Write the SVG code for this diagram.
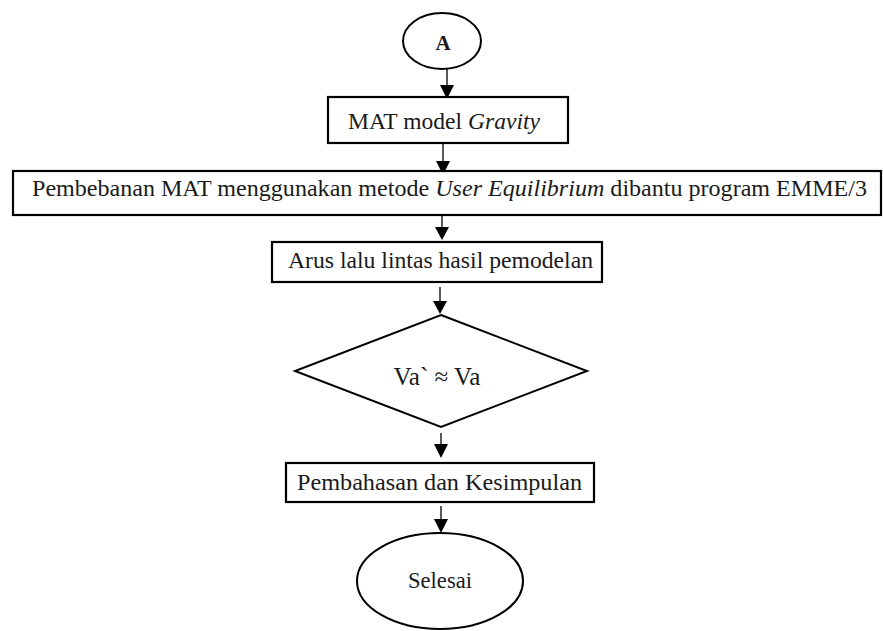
<svg xmlns="http://www.w3.org/2000/svg" width="883" height="631" viewBox="0 0 883 631">
<defs>
<style>
.box{fill:#fff;stroke:#000;stroke-width:2.2}
.shape{fill:#fff;stroke:#000;stroke-width:2}
.t{font-family:"Liberation Serif","Times New Roman",serif;font-size:24px;fill:#1a1a1a}
.ta{font-family:"Liberation Serif","Times New Roman",serif;font-size:21px;font-weight:bold;fill:#1a1a1a}
.tv{font-family:"Liberation Serif","Times New Roman",serif;font-size:25px;fill:#1a1a1a}
.c{stroke:#000;stroke-width:1.3;fill:none}
.h{fill:#000}
</style>
</defs>
<rect width="883" height="631" fill="#fff"/>
<g id="connectors">
<line class="c" x1="447" y1="69" x2="447" y2="86"/><polygon class="h" points="440,85 454,85 447,99"/>
<line class="c" x1="443" y1="143" x2="443" y2="162"/><polygon class="h" points="436,161 450,161 443,175"/>
<line class="c" x1="442" y1="216" x2="442" y2="228"/><polygon class="h" points="435,227 449,227 442,240"/>
<line class="c" x1="440" y1="287" x2="440" y2="302"/><polygon class="h" points="433,301 447,301 440,314"/>
<line class="c" x1="441" y1="433" x2="441" y2="445"/><polygon class="h" points="434,444 448,444 441,458"/>
<line class="c" x1="441" y1="506" x2="441" y2="520"/><polygon class="h" points="434,519 448,519 441,533"/>
</g>
<g id="node-a">
<ellipse class="shape" cx="442" cy="41" rx="39" ry="28"/>
<text class="ta" x="443" y="50" text-anchor="middle">A</text>
</g>
<g id="node-mat">
<rect class="box" x="328" y="97" width="240" height="46"/>
<text class="t" x="348" y="129" textLength="192" lengthAdjust="spacingAndGlyphs">MAT model <tspan font-style="italic">Gravity</tspan></text>
</g>
<g id="node-pembebanan">
<rect class="box" x="13" y="171" width="868" height="44"/>
<text class="t" x="32" y="196" textLength="835" lengthAdjust="spacingAndGlyphs">Pembebanan MAT menggunakan metode <tspan font-style="italic">User Equilibrium</tspan> dibantu program EMME/3</text>
</g>
<g id="node-arus">
<rect class="box" x="272" y="242" width="330" height="40"/>
<text class="t" x="288" y="268" textLength="305" lengthAdjust="spacingAndGlyphs">Arus lalu lintas hasil pemodelan</text>
</g>
<g id="node-decision">
<polygon class="shape" points="441,315 587,371 441,427 295,371"/>
<text class="tv" x="437" y="385" text-anchor="middle">Va` ≈ Va</text>
</g>
<g id="node-pembahasan">
<rect class="box" x="286" y="463" width="308" height="39"/>
<text class="t" x="297" y="490" textLength="285" lengthAdjust="spacingAndGlyphs">Pembahasan dan Kesimpulan</text>
</g>
<g id="node-selesai">
<ellipse class="shape" cx="440" cy="581" rx="83" ry="48"/>
<text class="t" x="408" y="588" textLength="64" lengthAdjust="spacingAndGlyphs">Selesai</text>
</g>
</svg>
